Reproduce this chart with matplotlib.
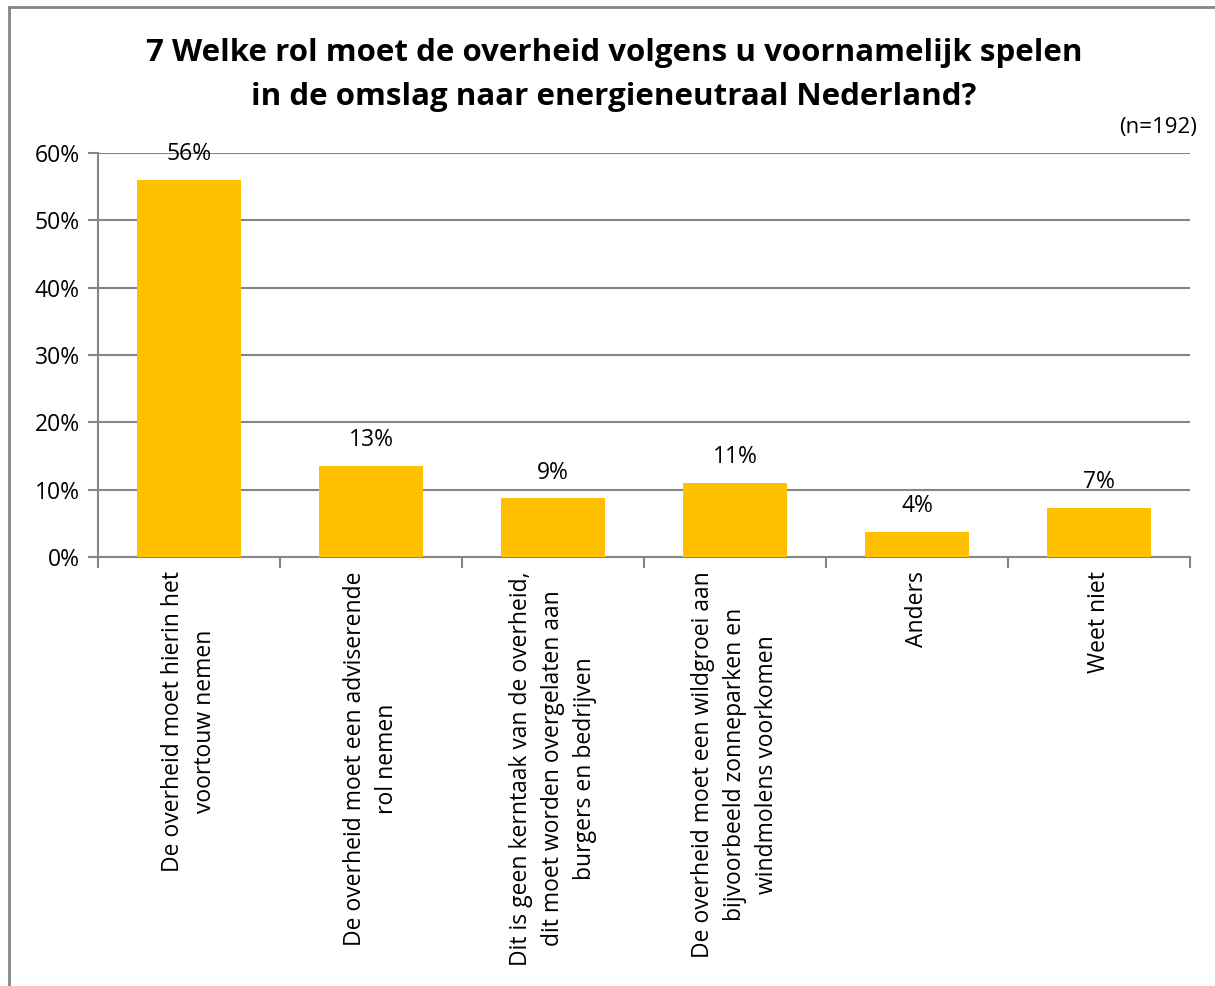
import numpy as np
import matplotlib.pyplot as plt
from matplotlib.lines import Line2D
from matplotlib.ticker import PercentFormatter

# Data
categories = [
    "De overheid moet hierin het\nvoortouw nemen",
    "De overheid moet een adviserende\nrol nemen",
    "Dit is geen kerntaak van de overheid,\ndit moet worden overgelaten aan\nburgers en bedrijven",
    "De overheid moet een wildgroei aan\nbijvoorbeeld zonneparken en\nwindmolens voorkomen",
    "Anders",
    "Weet niet",
]
values = [56.0, 13.5, 8.7, 11.0, 3.7, 7.3]
value_labels = ["56%", "13%", "9%", "11%", "4%", "7%"]
yticks = [0, 10, 20, 30, 40, 50, 60]

W, H = 1215, 986
plt.rcParams['font.family'] = ['Open Sans', 'DejaVu Sans']

fig = plt.figure(figsize=(W / 100, H / 100), dpi=100)
# plot area: x 98..1190, y 153..557 (pixels)
ax = fig.add_axes([98 / W, 1 - 557 / H, (1190 - 98) / W, (557 - 153) / H])

grey = "#868686"
x = np.arange(len(categories))
ax.bar(x, values, width=0.57, color="#FFC000", zorder=3)

for xi, v, lab in zip(x, values, value_labels):
    ax.annotate(lab, (xi, v), xytext=(0, 10), textcoords="offset points",
                ha="center", va="bottom", fontsize=16.5, color="black", zorder=4)

ax.set_xlim(-0.5, len(categories) - 0.5)
ax.set_ylim(0, 60)
ax.set_yticks(yticks)
ax.yaxis.set_major_formatter(PercentFormatter(decimals=0))
ax.yaxis.grid(True, color=grey, linewidth=1.5, zorder=0)
ax.tick_params(axis="y", length=7, width=1.5, color=grey, labelsize=16.5, pad=6)

# category labels placed at centres, ticks at boundaries
ax.set_xticks(np.arange(len(categories) + 1) - 0.5)
ax.set_xticklabels([])
ax.tick_params(axis="x", length=8, width=1.5, color=grey)
for xi, lab in zip(x, categories):
    ax.text(xi, -0.035, lab, transform=ax.get_xaxis_transform(), rotation=90,
            ha="center", va="top", multialignment="center", fontsize=16.5,
            linespacing=1.45)

for side in ["top", "right"]:
    ax.spines[side].set_visible(False)
for side in ["left", "bottom"]:
    ax.spines[side].set_color(grey)
    ax.spines[side].set_linewidth(1.5)

fig.text(614 / W, 1 - 75 / H,
         "7 Welke rol moet de overheid volgens u voornamelijk spelen\nin de omslag naar energieneutraal Nederland?",
         ha="center", va="center", fontsize=22.5, fontweight="bold", linespacing=1.6)
fig.text(1197 / W, 1 - 128 / H, "(n=192)", ha="right", va="center", fontsize=16)

# outer frame (left and top edges)
fig.add_artist(Line2D([9 / W, 9 / W], [0, 1 - 7 / H], transform=fig.transFigure, color=grey, linewidth=2))
fig.add_artist(Line2D([9 / W, 1], [1 - 7 / H, 1 - 7 / H], transform=fig.transFigure, color=grey, linewidth=2))

fig.savefig("out.png", dpi=100)
